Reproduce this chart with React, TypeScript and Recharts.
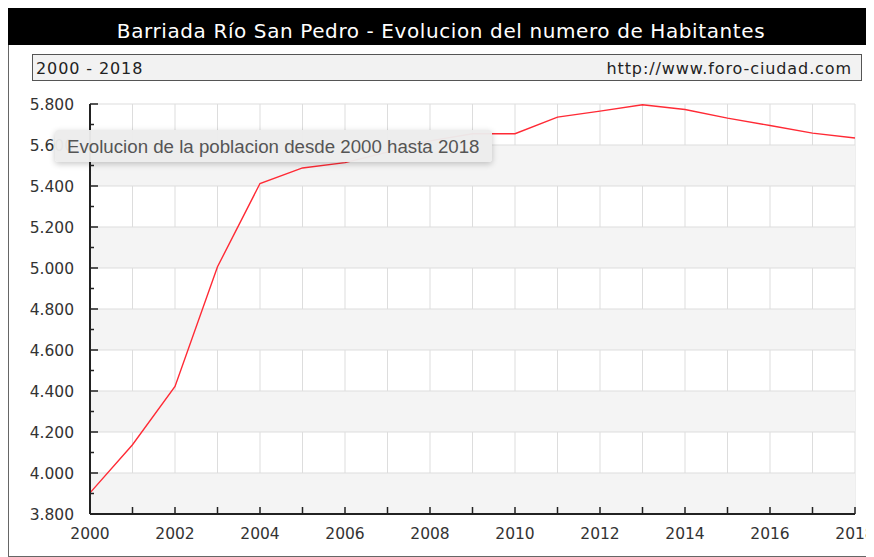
import { CartesianGrid, Line, LineChart, ReferenceArea, ReferenceLine, XAxis, YAxis } from 'recharts';

const years = [2000, 2001, 2002, 2003, 2004, 2005, 2006, 2007, 2008, 2009, 2010, 2011, 2012, 2013, 2014, 2015, 2016, 2017, 2018];
const habitantes = [3903, 4138, 4422, 5006, 5412, 5488, 5514, 5565, 5620, 5655, 5655, 5736, 5765, 5796, 5773, 5731, 5695, 5658, 5634];
const yTicks = [3800, 3900, 4000, 4100, 4200, 4300, 4400, 4500, 4600, 4700, 4800, 4900, 5000, 5100, 5200, 5300, 5400, 5500, 5600, 5700, 5800];
const yMajor = [3800, 4000, 4200, 4400, 4600, 4800, 5000, 5200, 5400, 5600, 5800];
const xLabels = [2000, 2002, 2004, 2006, 2008, 2010, 2012, 2014, 2016, 2018];

const data = years.map((year, i) => ({ year, value: habitantes[i] }));
// shaded bands: every other interval between major ticks, starting at the bottom
const bands = yMajor.slice(0, -1).filter((_, i) => i % 2 === 0).map((v, i) => [v, yMajor[i * 2 + 1]]);

const FONT = '"DejaVu Sans", Verdana, sans-serif';

const fmt = (v: number) => (v / 1000).toFixed(3);

function YTick({ x, y, payload }: any) {
  const major = yMajor.includes(payload.value);
  return (
    <g>
      <line x1={x} x2={x + (major ? 8 : 4)} y1={y} y2={y} stroke="#222" strokeWidth={1.5} />
      {major && (
        <text x={x - 16} y={y} dy={5.5} textAnchor="end" fontSize={15.5} fill="#333" fontFamily={FONT}>
          {fmt(payload.value)}
        </text>
      )}
    </g>
  );
}

function XTick({ x, y, payload }: any) {
  const show = xLabels.includes(payload.value);
  return (
    <g>
      <line x1={x} x2={x} y1={y} y2={y - 7} stroke="#222" strokeWidth={1.5} />
      {show && (
        <text x={x} y={y + 25} textAnchor="middle" fontSize={15.5} fill="#333" fontFamily={FONT}>
          {payload.value}
        </text>
      )}
    </g>
  );
}

export default function App() {
  return (
    <div
      style={{
        position: 'relative',
        width: 862,
        height: 547,
        border: '1px solid #666',
        background: '#fff',
        fontFamily: FONT,
      }}
    >
      <style>{'html { overflow: hidden; }'}</style>
      <div
        style={{
          position: 'absolute',
          left: -1,
          top: -1,
          width: 866,
          height: 37,
          background: '#000',
          color: '#fff',
          fontSize: 20,
          letterSpacing: 0.6,
          lineHeight: '46px',
          textAlign: 'center',
          fontFamily: FONT,
          whiteSpace: 'nowrap',
          overflow: 'hidden',
        }}
      >
        Barriada Río San Pedro - Evolucion del numero de Habitantes
      </div>
      <div
        style={{
          position: 'absolute',
          left: 23,
          top: 45,
          width: 828,
          height: 25,
          border: '1px solid #555',
          background: '#f2f2f2',
          color: '#222',
          fontSize: 16,
          letterSpacing: 0.9,
          lineHeight: '27px',
          boxSizing: 'content-box',
          whiteSpace: 'nowrap',
        }}
      >
        <span style={{ position: 'absolute', left: 3 }}>2000 - 2018</span>
        <span style={{ position: 'absolute', right: 9 }}>http://www.foro-ciudad.com</span>
      </div>
      <div style={{ position: 'absolute', left: 0, top: 0 }}>
        <LineChart width={880} height={547} data={data} margin={{ top: 95, right: 34, bottom: 10, left: 21 }}>
          {bands.map(([y1, y2]) => (
            <ReferenceArea key={y1} y1={y1} y2={y2} fill="#f4f4f4" fillOpacity={1} stroke="none" ifOverflow="hidden" />
          ))}
          <CartesianGrid stroke="#ddd" horizontal={false} />
          {yMajor.map((v) => (
            <ReferenceLine key={v} y={v} stroke="#ddd" />
          ))}
          <XAxis
            dataKey="year"
            type="number"
            domain={[2000, 2018]}
            ticks={years}
            interval={0}
            tickSize={0}
            tickMargin={0}
            height={32}
            stroke="#222"
            strokeWidth={2}
            tick={<XTick />}
          />
          <YAxis
            type="number"
            domain={[3800, 5800]}
            ticks={yTicks}
            interval={0}
            tickSize={0}
            tickMargin={0}
            width={60}
            stroke="#222"
            strokeWidth={2}
            tick={<YTick />}
          />
          <Line
            type="linear"
            dataKey="value"
            stroke="#ff2a35"
            strokeWidth={1.4}
            dot={false}
            activeDot={false}
            isAnimationActive={false}
          />
        </LineChart>
      </div>
      <div
        style={{
          position: 'absolute',
          left: 46,
          top: 121,
          width: 437,
          height: 32,
          background: 'rgba(236,236,236,0.96)',
          borderRadius: 3,
          boxShadow: '0 2px 6px rgba(0,0,0,0.22)',
          color: '#555',
          fontFamily: '"Liberation Sans", Arial, sans-serif',
          fontSize: 18.7,
          lineHeight: '33px',
          paddingLeft: 12,
          boxSizing: 'border-box',
          whiteSpace: 'nowrap',
        }}
      >
        Evolucion de la poblacion desde 2000 hasta 2018
      </div>
    </div>
  );
}
